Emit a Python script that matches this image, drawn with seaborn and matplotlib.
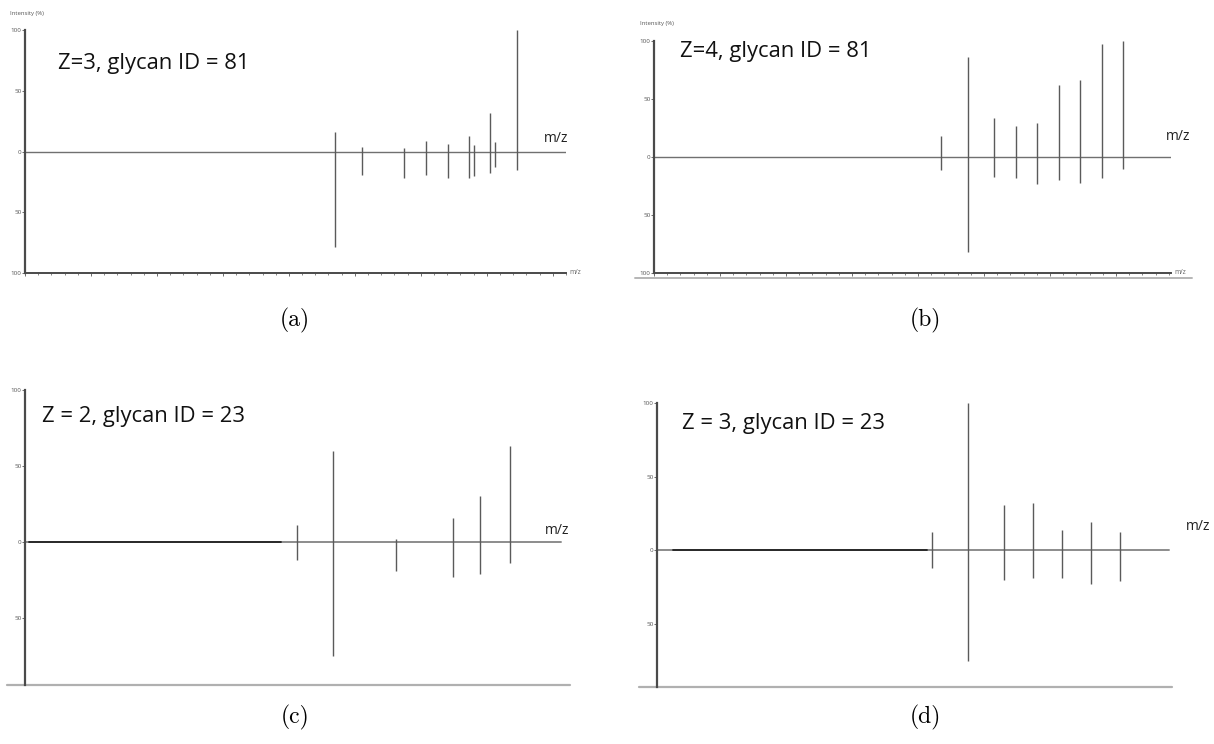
import numpy as np
import pandas as pd
import matplotlib
matplotlib.use("Agg")
import matplotlib.pyplot as plt
import seaborn as sns
from matplotlib.ticker import FixedLocator, MultipleLocator, FuncFormatter

sns.set_theme(style="ticks")
plt.rcParams['font.family'] = ['Open Sans', 'DejaVu Sans']

# ---------------- data ----------------
titles = ["Z=3, glycan ID = 81", "Z=4, glycan ID = 81",
          "Z = 2, glycan ID = 23", "Z = 3, glycan ID = 23"]
captions = ["(a)", "(b)", "(c)", "(d)"]

a_mz = [1174, 1276, 1438, 1519, 1601, 1681, 1701, 1761, 1780, 1865]
a_up = [16, 4, 3, 9, 6, 13, 5, 32, 8, 100]
a_down = [79, 19, 22, 19, 22, 22, 20, 18, 13, 15]

b_mz = [1086, 1189, 1288, 1371, 1452, 1534, 1614, 1696, 1778]
b_up = [18, 86, 34, 27, 29, 62, 66, 97, 100]
b_down = [11, 82, 17, 18, 23, 20, 22, 18, 10]

c_mz = [1030, 1165, 1405, 1620, 1725, 1835]
c_up = [11, 60, 2, 16, 30, 63]
c_down = [12, 75, 19, 23, 21, 14]

d_mz = [1043, 1180, 1316, 1425, 1535, 1644, 1754]
d_up = [12, 100, 31, 32, 14, 19, 12]
d_down = [12, 75, 20, 19, 19, 23, 21]

ytick_vals = [100, 50, 0, -50, -100]

W, H = 1214, 744
fig = plt.figure(figsize=(W / 100, H / 100), dpi=100)


def frac_box(left, top, right, bottom):
    return [left / W, 1 - bottom / H, (right - left) / W, (bottom - top) / H]


def fx(x, y):
    return x / W, 1 - y / H


panels = [
    dict(mz=a_mz, up=a_up, down=a_down, box=frac_box(25, 30, 566, 273),
         xmax=2050, ymin=-100, ticks=True, bigmz=(556, 138), title=(58, 64),
         cap=(295, 320), label=(10, 14)),
    dict(mz=b_mz, up=b_up, down=b_down, box=frac_box(654, 41, 1171, 273),
         xmax=1958, ymin=-100, ticks=True, bigmz=(1178, 137), title=(680, 51),
         cap=(925, 320), label=(640, 24)),
    dict(mz=c_mz, up=c_up, down=c_down, box=frac_box(25, 390, 570, 685),
         xmax=2064, ymin=-94, ticks=False, bigmz=(557, 531), title=(42, 417),
         cap=(295, 717), label=None, thick=(15, 970), zero_end=2030),
    dict(mz=d_mz, up=d_up, down=d_down, box=frac_box(657, 403, 1172, 687),
         xmax=1951, ymin=-93, ticks=False, bigmz=(1198, 527), title=(682, 423),
         cap=(925, 717), label=None, thick=(61, 1023), zero_end=1940),
]

peak_color = "#5a5a5a"
spine_color = "#4a4a4a"

for i, p in enumerate(panels):
    ax = fig.add_axes(p["box"])
    df = pd.DataFrame({"mz": p["mz"], "up": p["up"], "down": p["down"]})
    ax.set_xlim(0, p["xmax"])
    ax.set_ylim(p["ymin"], 100)
    sns.despine(ax=ax, top=True, right=True, bottom=not p["ticks"])

    # zero baseline
    if p["ticks"]:
        ax.axhline(0, color="#707070", lw=1.0, zorder=1)
    else:
        ax.plot([0, p["zero_end"]], [0, 0], color="#8c8c8c", lw=1.4, zorder=1)
        ax.plot(list(p["thick"]), [0, 0], color="#222222", lw=1.3, zorder=2)
        # gray bottom line extending beyond spine
        ax.plot([-68, p["xmax"]], [p["ymin"], p["ymin"]], color="#b0b0b0",
                lw=1.6, clip_on=False, zorder=1)

    # mirrored stick spectrum
    ax.vlines(df["mz"], -df["down"], df["up"], color=peak_color, lw=1.0, zorder=3)

    # y axis
    ax.spines["left"].set_color(spine_color)
    ax.spines["left"].set_linewidth(1.6)
    if p["ticks"]:
        ax.yaxis.set_major_locator(FixedLocator(ytick_vals))
    else:
        ax.yaxis.set_major_locator(FixedLocator(ytick_vals[:-1]))
    ax.yaxis.set_major_formatter(FuncFormatter(lambda v, pos: f"{abs(int(v))}"))
    ax.tick_params(axis="y", labelsize=4.5, length=2, width=0.6, pad=0.5,
                   colors="#555555", labelcolor="#555555")

    # x axis
    if p["ticks"]:
        ax.spines["bottom"].set_color(spine_color)
        ax.spines["bottom"].set_linewidth(1.4)
        ax.xaxis.set_major_locator(MultipleLocator(250))
        ax.xaxis.set_minor_locator(MultipleLocator(50))
        ax.tick_params(axis="x", which="major", length=2.5, width=0.6,
                       labelbottom=False, colors="#555555")
        ax.tick_params(axis="x", which="minor", length=1.2, width=0.5,
                       colors="#555555")
        ax.text(1.006, 0, "m/z", transform=ax.transAxes, fontsize=4.8,
                color="#666666", va="center", ha="left")
    else:
        ax.set_xticks([])

    ax.set_facecolor("none")

    # panel annotations
    tx, ty = fx(*p["title"])
    fig.text(tx, ty, titles[i], fontsize=15.8, color="#111111",
             ha="left", va="center")
    mx, my = fx(*p["bigmz"])
    fig.text(mx, my, "m/z", fontsize=10, color="#222222", ha="center", va="center")
    cx, cy = fx(*p["cap"])
    fig.text(cx, cy, captions[i], fontsize=17, family="cmr10",
             ha="center", va="center", color="black")
    if p["label"] is not None:
        lx, ly = fx(*p["label"])
        fig.text(lx, ly, "Intensity (%)", fontsize=4.3, color="#555555",
                 ha="left", va="center")

# double underline artifact below panel (b)
x0, y0 = fx(635, 278)
x1, _ = fx(1192, 278)
fig.add_artist(plt.Line2D([x0, x1], [y0, y0], color="#b5b5b5", lw=1.4))

fig.savefig("out.png", dpi=100)
